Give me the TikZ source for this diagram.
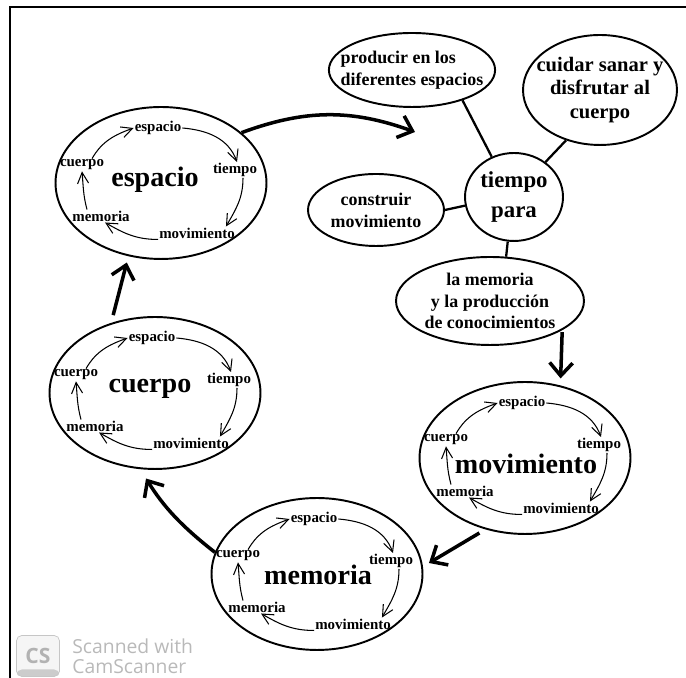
\documentclass[tikz,border=0pt]{standalone}
\usepackage{fontspec}
\setmainfont{Liberation Serif}
\newfontfamily\wmfont{Open Sans}
\usetikzlibrary{shapes.geometric,arrows.meta}
\begin{document}
\begin{tikzpicture}[x=0.02cm,y=0.02cm,
  cyc/.style={draw,ellipse,line width=1.1pt,inner sep=0pt,minimum width=4.22cm,minimum height=3.04cm},
  big/.style={inner sep=0pt,font=\fontsize{16}{18}\selectfont\bfseries},
  lbl/.style={inner sep=0.5pt,font=\fontsize{8.5}{9}\selectfont\bfseries},
  ring/.style={line width=0.6pt,-{Straight Barb[length=2.2mm,width=2.2mm]}},
  bub/.style={draw,ellipse,line width=1.1pt,inner sep=0pt,align=center,font=\fontsize{10.2}{12.5}\selectfont\bfseries},
  link/.style={line width=1.3pt},
  flow/.style={line width=2pt,-{Straight Barb[length=2.6mm,width=4.6mm]}},
  wm/.style={inner sep=0pt,text=gray!55,font=\wmfont\fontsize{11}{12}\selectfont}]
\useasboundingbox (0,0) rectangle (686,678);
\draw[line width=1.4pt] (686,671) -| (10,0);
\foreach \n/\x/\y/\t/\s in {esp/161/495/espacio/{(-6,3)},cue/155/285/cuerpo/{(-5,4)},mem/317/104/memoria/{(1,-1)},mov/525/220/movimiento/{(1,-6)}}{
  \node[cyc] (\n) at (\x,\y) {};
  \node[big] (\n-b) at ([shift={\s}]\n.center) {\t};
  \node[lbl] (\n-e) at ([shift={(-3,55)}]\n.center) {espacio};
  \node[lbl] (\n-t) at ([shift={(74,13)}]\n.center) {tiempo};
  \node[lbl] (\n-m) at ([shift={(36,-50)}]\n.center) {movimiento};
  \node[lbl] (\n-me) at ([shift={(-60,-33)}]\n.center) {memoria};
  \node[lbl] (\n-c) at ([shift={(-79,18)}]\n.center) {cuerpo};
  \draw[ring] ([xshift=.2cm]\n-c.north) to[out=60,in=200] (\n-e.west);
  \draw[ring] (\n-e.east) to[out=-5,in=110] ([xshift=.04cm]\n-t.north);
  \draw[ring] ([xshift=.16cm]\n-t.south) to[out=-90,in=60] ([xshift=-.2cm]\n-m.north east);
  \draw[ring] (\n-m.south west) to[out=180,in=-30] ([xshift=.08cm]\n-me.south);
  \draw[ring] ([xshift=-.28cm]\n-me.north) to[out=105,in=-85] (\n-c.south);
}
\node[bub,align=left,inner xsep=-.25cm,minimum width=3.32cm,minimum height=1.48cm] (prod) at (412,608) {producir en los\\diferentes espacios};
\node[bub,inner xsep=-.18cm,minimum width=3.08cm,minimum height=2.2cm,font=\fontsize{11.7}{13.6}\selectfont\bfseries] (cui) at (600,588) {cuidar sanar y\\disfrutar al\\cuerpo};
\node[bub,minimum width=1.96cm,minimum height=1.76cm,font=\fontsize{13}{17.6}\selectfont\bfseries] (hub) at (514,481) {tiempo\\para};
\node[bub,minimum width=2.72cm,minimum height=1.44cm] (cons) at (376,468) {construir\\movimiento};
\node[bub,minimum width=3.76cm,minimum height=1.76cm,font=\fontsize{10.2}{12.2}\selectfont\bfseries] (lmem) at (490,377) {la memoria\\y la producción\\de conocimientos};
\coordinate (hubin) at (415,546);
\draw[link] (prod.-31) -- (hub.119);
\draw[link] (cui.-124) -- (hub.48);
\draw[link] (cons.east) -- (hub.190);
\draw[link] (hub.-98) -- (lmem.70);
\draw[flow] (esp.32) to[bend left=20] (hubin);
\draw[flow,shorten <=.16cm,shorten >=.13cm] (cue.122) -- (esp.-114);
\draw[flow,shorten >=.22cm] (mem.168) to[bend left=10] (cue.-101);
\draw[flow,shorten <=.14cm,shorten >=.14cm] (mov.-119) -- (mem.4);
\draw[flow,shorten <=.04cm,shorten >=.14cm] (lmem.-22) -- (mov.64);
\node[draw=gray!45,fill=gray!8,rounded corners=3pt,minimum width=.86cm,minimum height=.82cm,inner sep=0pt,text=gray!60,font=\wmfont\bfseries\fontsize{12}{12}\selectfont,
  path picture={\fill[gray!40] (path picture bounding box.south west) rectangle ([yshift=.14cm]path picture bounding box.south east);}] (cs) at (38,22) {CS};
\node[wm,anchor=west] (scan) at (72,32) {Scanned with};
\node[wm,anchor=west] (cams) at (72,11) {CamScanner};
\end{tikzpicture}
\end{document}
